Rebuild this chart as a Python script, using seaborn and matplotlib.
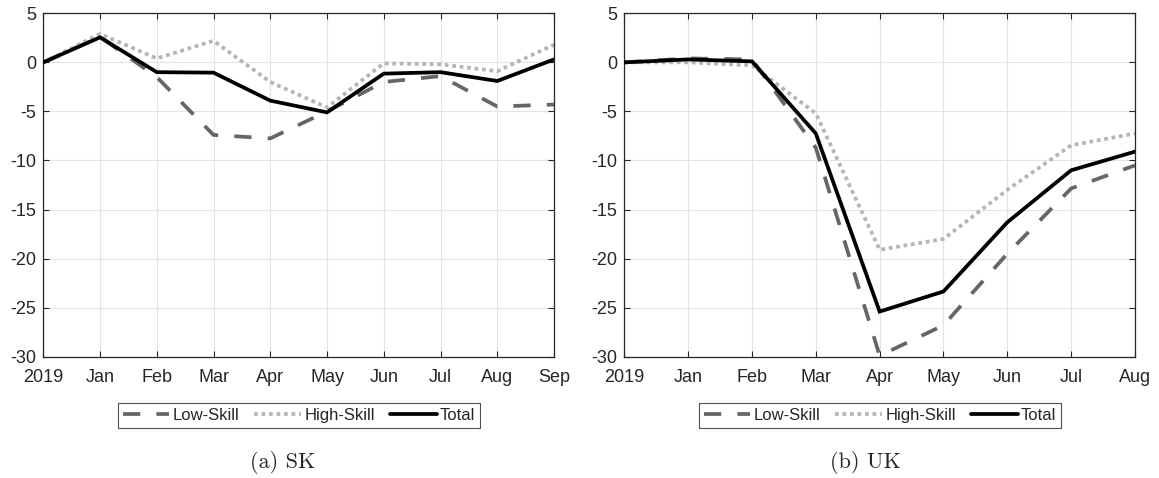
import matplotlib
matplotlib.use("Agg")
import matplotlib.pyplot as plt
import seaborn as sns
import pandas as pd
from matplotlib.lines import Line2D

sns.set_theme(style="white")
plt.rcParams['font.family'] = ['Liberation Sans', 'DejaVu Sans']
plt.rcParams['axes.unicode_minus'] = False

# ---- data ----
sk_months = ["2019", "Jan", "Feb", "Mar", "Apr", "May", "Jun", "Jul", "Aug", "Sep"]
sk_low = [0, 2.6, -1.5, -7.4, -7.75, -5.0, -2.0, -1.4, -4.5, -4.3]
sk_high = [0, 2.9, 0.4, 2.2, -2.0, -4.6, -0.1, -0.2, -0.9, 1.8]
sk_total = [0, 2.55, -1.0, -1.05, -3.9, -5.1, -1.15, -1.0, -1.9, 0.3]

uk_months = ["2019", "Jan", "Feb", "Mar", "Apr", "May", "Jun", "Jul", "Aug"]
uk_low = [0, 0.4, 0.3, -8.7, -29.9, -26.8, -19.5, -12.85, -10.5]
uk_high = [0, 0.0, -0.3, -5.2, -19.1, -18.0, -13.0, -8.45, -7.25]
uk_total = [0, 0.3, 0.1, -7.25, -25.4, -23.35, -16.3, -11.0, -9.1]

series_names = ["Low-Skill", "High-Skill", "Total"]
captions = ["(a) SK", "(b) UK"]

styles = {
    "Low-Skill": dict(color="#666666", dashes=(4.6, 4.3), lw=2.7),
    "High-Skill": dict(color="#b5b5b5", dashes=(1.0, 1.0), lw=2.7),
    "Total": dict(color="#000000", dashes=None, lw=2.7),
}

fig = plt.figure(figsize=(11.59, 4.78), dpi=100)
W, H = 1159, 478
ax_boxes = [(43.3, 13.3, 554.0, 356.7), (624.3, 13.3, 1135.0, 356.7)]
legend_centers = [(299, 415.5), (880, 415.5)]
caption_centers = [(283, 462), (865, 462)]

panels = [(sk_months, [sk_low, sk_high, sk_total]),
          (uk_months, [uk_low, uk_high, uk_total])]

for i, (months, vals) in enumerate(panels):
    x0, y0, x1, y1 = ax_boxes[i]
    ax = fig.add_axes([x0 / W, 1 - y1 / H, (x1 - x0) / W, (y1 - y0) / H])
    df = pd.DataFrame({"x": list(range(len(months))) * 3,
                       "value": sum(vals, []),
                       "series": sum([[n] * len(months) for n in series_names], [])})
    for name in series_names:
        st = styles[name]
        sub = df[df["series"] == name]
        sns.lineplot(data=sub, x="x", y="value", ax=ax, color=st["color"],
                     lw=st["lw"], legend=False, zorder=3 if name == "Total" else 2)
        ln = ax.lines[-1]
        if st["dashes"] is not None:
            ln.set_dashes(st["dashes"])
            ln.set_dash_capstyle("butt")
        ln.set_solid_joinstyle("miter")
    ax.set_xlim(0, len(months) - 1)
    ax.set_ylim(-30, 5)
    ax.set_yticks(range(-30, 6, 5))
    ax.set_xticks(range(len(months)))
    ax.set_xticklabels(months)
    ax.set_xlabel("")
    ax.set_ylabel("")
    ax.grid(True, color="#e3e3e3", lw=0.8)
    ax.set_axisbelow(True)
    for s in ax.spines.values():
        s.set_color("#262626")
        s.set_linewidth(0.9)
        s.set_visible(True)
    ax.tick_params(direction="in", length=4, width=0.8, colors="#262626",
                   labelsize=13, top=True, right=True, bottom=True, left=True)
    ax.tick_params(axis="x", pad=9)
    ax.tick_params(axis="y", pad=5)

    handles = []
    for name in series_names:
        st = styles[name]
        h = Line2D([], [], color=st["color"], lw=st["lw"])
        if st["dashes"] is not None:
            h.set_dashes(st["dashes"])
            h.set_dash_capstyle("butt")
        handles.append(h)
    lx, ly = legend_centers[i]
    leg = fig.legend(handles, series_names, loc="center",
                     bbox_to_anchor=(lx / W, 1 - ly / H), ncol=3,
                     fontsize=12, frameon=True, fancybox=False,
                     handlelength=2.8, handletextpad=0.2, columnspacing=0.9,
                     borderpad=0.3, borderaxespad=0)
    leg.get_frame().set_edgecolor("#262626")
    leg.get_frame().set_linewidth(0.8)
    for t in leg.get_texts():
        t.set_color("#262626")

    cx, cy = caption_centers[i]
    fig.text(cx / W, 1 - cy / H, captions[i], ha="center", va="center",
             fontsize=16, family=["cmr10", "DejaVu Serif"])

fig.savefig("out.png", dpi=100)
